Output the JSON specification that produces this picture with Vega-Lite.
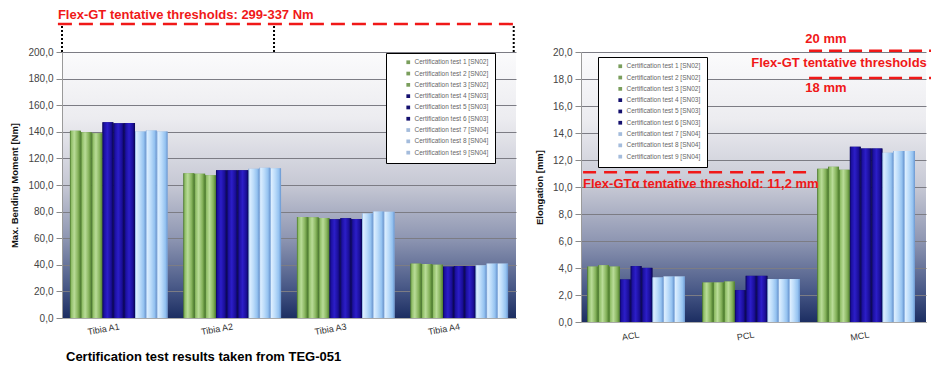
{
  "$schema": "https://vega.github.io/schema/vega-lite/v6.json",
  "background": "white",
  "padding": {"left": 9, "top": 8, "right": 0, "bottom": 0},
  "spacing": 65,
  "bounds": "flush",
  "config": {
    "font": "Liberation Sans",
    "view": {"stroke": null},
    "axis": {
      "labelFont": "Liberation Sans",
      "titleFont": "Liberation Sans",
      "labelColor": "#444444",
      "titleColor": "#111111",
      "titleFontWeight": "bold",
      "titleFontSize": 9.5,
      "domainColor": "#9a9a9a",
      "tickColor": "#8a8a8a",
      "gridColor": "#7c7c84"
    },
    "axisY": {
      "tickCount": 10,
      "labelOverlap": false,
      "labelExpr": "replace(format(datum.value, '.1f'), '.', ',')",
      "labelFontSize": 10,
      "tickSize": 6,
      "labelPadding": 3,
      "titlePadding": 8,
      "grid": true
    },
    "axisX": {
      "labelAngle": -10,
      "labelFontSize": 9,
      "labelPadding": 7,
      "ticks": false,
      "grid": false,
      "labelColor": "#333333",
      "domainColor": "#aaaaaa"
    },
    "legend": {
      "title": null,
      "orient": "none",
      "fillColor": "white",
      "strokeColor": "#000000",
      "padding": 6,
      "symbolOffset": 13,
      "labelFont": "Liberation Sans",
      "labelFontSize": 6.5,
      "labelColor": "#666666",
      "symbolType": "square",
      "symbolSize": 14,
      "symbolStrokeWidth": 0,
      "rowPadding": 4.3,
      "labelOffset": 3
    }
  },
  "datasets": {
    "bend": [
      {"cat": "Tibia A1", "test": "Certification test 1 [SN02]", "sn": "SN02", "value": 140.7},
      {"cat": "Tibia A1", "test": "Certification test 2 [SN02]", "sn": "SN02", "value": 139.6},
      {"cat": "Tibia A1", "test": "Certification test 3 [SN02]", "sn": "SN02", "value": 139.0},
      {"cat": "Tibia A1", "test": "Certification test 4 [SN03]", "sn": "SN03", "value": 147.2},
      {"cat": "Tibia A1", "test": "Certification test 5 [SN03]", "sn": "SN03", "value": 146.5},
      {"cat": "Tibia A1", "test": "Certification test 6 [SN03]", "sn": "SN03", "value": 146.7},
      {"cat": "Tibia A1", "test": "Certification test 7 [SN04]", "sn": "SN04", "value": 140.3},
      {"cat": "Tibia A1", "test": "Certification test 8 [SN04]", "sn": "SN04", "value": 141.0},
      {"cat": "Tibia A1", "test": "Certification test 9 [SN04]", "sn": "SN04", "value": 140.3},
      {"cat": "Tibia A2", "test": "Certification test 1 [SN02]", "sn": "SN02", "value": 108.9},
      {"cat": "Tibia A2", "test": "Certification test 2 [SN02]", "sn": "SN02", "value": 108.4},
      {"cat": "Tibia A2", "test": "Certification test 3 [SN02]", "sn": "SN02", "value": 107.4},
      {"cat": "Tibia A2", "test": "Certification test 4 [SN03]", "sn": "SN03", "value": 111.1},
      {"cat": "Tibia A2", "test": "Certification test 5 [SN03]", "sn": "SN03", "value": 111.1},
      {"cat": "Tibia A2", "test": "Certification test 6 [SN03]", "sn": "SN03", "value": 111.1},
      {"cat": "Tibia A2", "test": "Certification test 7 [SN04]", "sn": "SN04", "value": 112.3},
      {"cat": "Tibia A2", "test": "Certification test 8 [SN04]", "sn": "SN04", "value": 113.0},
      {"cat": "Tibia A2", "test": "Certification test 9 [SN04]", "sn": "SN04", "value": 112.6},
      {"cat": "Tibia A3", "test": "Certification test 1 [SN02]", "sn": "SN02", "value": 76.0},
      {"cat": "Tibia A3", "test": "Certification test 2 [SN02]", "sn": "SN02", "value": 75.7},
      {"cat": "Tibia A3", "test": "Certification test 3 [SN02]", "sn": "SN02", "value": 75.2},
      {"cat": "Tibia A3", "test": "Certification test 4 [SN03]", "sn": "SN03", "value": 74.3},
      {"cat": "Tibia A3", "test": "Certification test 5 [SN03]", "sn": "SN03", "value": 75.0},
      {"cat": "Tibia A3", "test": "Certification test 6 [SN03]", "sn": "SN03", "value": 74.5},
      {"cat": "Tibia A3", "test": "Certification test 7 [SN04]", "sn": "SN04", "value": 78.5},
      {"cat": "Tibia A3", "test": "Certification test 8 [SN04]", "sn": "SN04", "value": 80.0},
      {"cat": "Tibia A3", "test": "Certification test 9 [SN04]", "sn": "SN04", "value": 79.8},
      {"cat": "Tibia A4", "test": "Certification test 1 [SN02]", "sn": "SN02", "value": 40.9},
      {"cat": "Tibia A4", "test": "Certification test 2 [SN02]", "sn": "SN02", "value": 40.6},
      {"cat": "Tibia A4", "test": "Certification test 3 [SN02]", "sn": "SN02", "value": 40.1},
      {"cat": "Tibia A4", "test": "Certification test 4 [SN03]", "sn": "SN03", "value": 38.6},
      {"cat": "Tibia A4", "test": "Certification test 5 [SN03]", "sn": "SN03", "value": 39.1},
      {"cat": "Tibia A4", "test": "Certification test 6 [SN03]", "sn": "SN03", "value": 39.1},
      {"cat": "Tibia A4", "test": "Certification test 7 [SN04]", "sn": "SN04", "value": 39.6},
      {"cat": "Tibia A4", "test": "Certification test 8 [SN04]", "sn": "SN04", "value": 40.9},
      {"cat": "Tibia A4", "test": "Certification test 9 [SN04]", "sn": "SN04", "value": 40.9}
    ],
    "elong": [
      {"cat": "ACL", "test": "Certification test 1 [SN02]", "sn": "SN02", "value": 4.11},
      {"cat": "ACL", "test": "Certification test 2 [SN02]", "sn": "SN02", "value": 4.21},
      {"cat": "ACL", "test": "Certification test 3 [SN02]", "sn": "SN02", "value": 4.11},
      {"cat": "ACL", "test": "Certification test 4 [SN03]", "sn": "SN03", "value": 3.15},
      {"cat": "ACL", "test": "Certification test 5 [SN03]", "sn": "SN03", "value": 4.14},
      {"cat": "ACL", "test": "Certification test 6 [SN03]", "sn": "SN03", "value": 4.01},
      {"cat": "ACL", "test": "Certification test 7 [SN04]", "sn": "SN04", "value": 3.30},
      {"cat": "ACL", "test": "Certification test 8 [SN04]", "sn": "SN04", "value": 3.37},
      {"cat": "ACL", "test": "Certification test 9 [SN04]", "sn": "SN04", "value": 3.37},
      {"cat": "PCL", "test": "Certification test 1 [SN02]", "sn": "SN02", "value": 2.93},
      {"cat": "PCL", "test": "Certification test 2 [SN02]", "sn": "SN02", "value": 2.93},
      {"cat": "PCL", "test": "Certification test 3 [SN02]", "sn": "SN02", "value": 3.00},
      {"cat": "PCL", "test": "Certification test 4 [SN03]", "sn": "SN03", "value": 2.36},
      {"cat": "PCL", "test": "Certification test 5 [SN03]", "sn": "SN03", "value": 3.42},
      {"cat": "PCL", "test": "Certification test 6 [SN03]", "sn": "SN03", "value": 3.42},
      {"cat": "PCL", "test": "Certification test 7 [SN04]", "sn": "SN04", "value": 3.18},
      {"cat": "PCL", "test": "Certification test 8 [SN04]", "sn": "SN04", "value": 3.18},
      {"cat": "PCL", "test": "Certification test 9 [SN04]", "sn": "SN04", "value": 3.18},
      {"cat": "MCL", "test": "Certification test 1 [SN02]", "sn": "SN02", "value": 11.35},
      {"cat": "MCL", "test": "Certification test 2 [SN02]", "sn": "SN02", "value": 11.50},
      {"cat": "MCL", "test": "Certification test 3 [SN02]", "sn": "SN02", "value": 11.28},
      {"cat": "MCL", "test": "Certification test 4 [SN03]", "sn": "SN03", "value": 12.98},
      {"cat": "MCL", "test": "Certification test 5 [SN03]", "sn": "SN03", "value": 12.86},
      {"cat": "MCL", "test": "Certification test 6 [SN03]", "sn": "SN03", "value": 12.86},
      {"cat": "MCL", "test": "Certification test 7 [SN04]", "sn": "SN04", "value": 12.54},
      {"cat": "MCL", "test": "Certification test 8 [SN04]", "sn": "SN04", "value": 12.66},
      {"cat": "MCL", "test": "Certification test 9 [SN04]", "sn": "SN04", "value": 12.66}
    ]
  },
  "resolve": {"scale": {"color": "independent", "x": "independent", "y": "independent"}, "legend": {"color": "independent"}},
  "hconcat": [
    {
      "width": 454,
      "height": 266,
      "view": {"stroke": null, "fill": {"gradient": "linear", "x1": 0, "y1": 0, "x2": 0, "y2": 1, "stops": [
                {"offset": 0, "color": "#fbfbfc"}, {"offset": 0.25, "color": "#ececf0"}, {"offset": 0.5, "color": "#c6c8d4"},
                {"offset": 0.7, "color": "#8e96b2"}, {"offset": 0.88, "color": "#4a5a88"}, {"offset": 1, "color": "#1c2e62"}]}},
      "title": {"text": "Certification test results taken from TEG-051", "orient": "bottom", "anchor": "start", "frame": "group", "fontSize": 13, "fontWeight": "bold", "color": "#000000", "offset": 14, "dx": 4, "font": "Liberation Sans"},
      "resolve": {"scale": {"x": "independent"}},
      "layer": [
        {
          "data": {"name": "bend"},
          "encoding": {
            "x": {"field": "cat", "type": "nominal", "title": null, "sort": null,
                  "scale": {"paddingInner": 0.14, "paddingOuter": 0.07},
                  "axis": {"labelPadding": 4}},
            "xOffset": {"field": "test", "type": "nominal"},
            "y": {"field": "value", "type": "quantitative", "title": "Max. Bending Moment [Nm]",
                  "scale": {"domain": [0, 200], "nice": false}}
          },
          "layer": [
            {
              "mark": {"type": "bar"},
              "encoding": {
                "color": {"field": "test", "type": "nominal",
                  "scale": {"range": ["#7a9e5c", "#7a9e5c", "#7a9e5c", "#14106e", "#14106e", "#14106e", "#a4bcdc", "#a4bcdc", "#a4bcdc"]},
                  "legend": {"legendX": 324, "legendY": 1}}
              }
            },
            {
              "transform": [{"filter": {"field": "sn", "equal": "SN02"}}],
              "mark": {"type": "bar", "fill": {"gradient": "linear", "x1": 0, "y1": 0, "x2": 1, "y2": 0, "stops": [
                {"offset": 0, "color": "#3f6e22"}, {"offset": 0.12, "color": "#8fbd66"}, {"offset": 0.4, "color": "#b9dc98"},
                {"offset": 0.75, "color": "#86b35c"}, {"offset": 1, "color": "#4c7c2c"}]}}
            },
            {
              "transform": [{"filter": {"field": "sn", "equal": "SN03"}}],
              "mark": {"type": "bar", "fill": {"gradient": "linear", "x1": 0, "y1": 0, "x2": 1, "y2": 0, "stops": [
                {"offset": 0, "color": "#0a0658"}, {"offset": 0.15, "color": "#1c10a0"}, {"offset": 0.45, "color": "#2c1ec8"},
                {"offset": 0.8, "color": "#1a0e98"}, {"offset": 1, "color": "#08044c"}]}}
            },
            {
              "transform": [{"filter": {"field": "sn", "equal": "SN04"}}],
              "mark": {"type": "bar", "fill": {"gradient": "linear", "x1": 0, "y1": 0, "x2": 1, "y2": 0, "stops": [
                {"offset": 0, "color": "#7aa6dc"}, {"offset": 0.12, "color": "#dceeff"}, {"offset": 0.45, "color": "#bcdcfa"},
                {"offset": 0.8, "color": "#94c2f0"}, {"offset": 1, "color": "#6a96d0"}]}}
            }
          ]
        },
        {
          "data": {"values": [{}]},
          "layer": [
            {
              "mark": {"type": "rule", "color": "#f01818", "strokeWidth": 2.5, "strokeDash": [14, 7], "clip": false},
              "encoding": {
                "x": {"datum": -0.009, "type": "quantitative", "scale": {"domain": [0, 1]}, "axis": null},
                "x2": {"datum": 0.995},
                "y": {"datum": 221, "type": "quantitative"}
              }
            },
            {
              "mark": {"type": "rule", "color": "#000000", "strokeWidth": 2, "strokeDash": [2, 2], "clip": false},
              "encoding": {
                "x": {"datum": 0, "type": "quantitative", "scale": {"domain": [0, 1]}, "axis": null},
                "y": {"datum": 200, "type": "quantitative"},
                "y2": {"datum": 221}
              }
            },
            {
              "mark": {"type": "rule", "color": "#000000", "strokeWidth": 2, "strokeDash": [2, 2], "clip": false},
              "encoding": {
                "x": {"datum": 0.467, "type": "quantitative", "scale": {"domain": [0, 1]}, "axis": null},
                "y": {"datum": 200, "type": "quantitative"},
                "y2": {"datum": 221}
              }
            },
            {
              "mark": {"type": "rule", "color": "#000000", "strokeWidth": 2, "strokeDash": [2, 2], "clip": false},
              "encoding": {
                "x": {"datum": 0.995, "type": "quantitative", "scale": {"domain": [0, 1]}, "axis": null},
                "y": {"datum": 200, "type": "quantitative"},
                "y2": {"datum": 221}
              }
            },
            {
              "mark": {"type": "text", "text": "Flex-GT tentative thresholds: 299-337 Nm", "color": "#f01818", "fontSize": 13, "fontWeight": "bold", "align": "left", "baseline": "middle", "clip": false, "font": "Liberation Sans"},
              "encoding": {
                "x": {"datum": -0.009, "type": "quantitative", "scale": {"domain": [0, 1]}, "axis": null},
                "y": {"datum": 228, "type": "quantitative"}
              }
            }
          ]
        }
      ]
    },
    {
      "width": 345,
      "height": 270,
      "view": {"stroke": null, "fill": {"gradient": "linear", "x1": 0, "y1": 0, "x2": 0, "y2": 1, "stops": [
                {"offset": 0, "color": "#fbfbfc"}, {"offset": 0.25, "color": "#ececf0"}, {"offset": 0.5, "color": "#c6c8d4"},
                {"offset": 0.7, "color": "#8e96b2"}, {"offset": 0.88, "color": "#4a5a88"}, {"offset": 1, "color": "#1c2e62"}]}},
      "resolve": {"scale": {"x": "independent"}},
      "layer": [
        {
          "data": {"name": "elong"},
          "encoding": {
            "x": {"field": "cat", "type": "nominal", "title": null, "sort": null,
                  "scale": {"paddingInner": 0.11, "paddingOuter": 0.055},
                  "axis": {"labelPadding": 8}},
            "xOffset": {"field": "test", "type": "nominal"},
            "y": {"field": "value", "type": "quantitative", "title": "Elongation [mm]",
                  "scale": {"domain": [0, 20], "nice": false}}
          },
          "layer": [
            {
              "mark": {"type": "bar"},
              "encoding": {
                "color": {"field": "test", "type": "nominal",
                  "scale": {"range": ["#7a9e5c", "#7a9e5c", "#7a9e5c", "#14106e", "#14106e", "#14106e", "#a4bcdc", "#a4bcdc", "#a4bcdc"]},
                  "legend": {"legendX": 17, "legendY": 5}}
              }
            },
            {
              "transform": [{"filter": {"field": "sn", "equal": "SN02"}}],
              "mark": {"type": "bar", "fill": {"gradient": "linear", "x1": 0, "y1": 0, "x2": 1, "y2": 0, "stops": [
                {"offset": 0, "color": "#3f6e22"}, {"offset": 0.12, "color": "#8fbd66"}, {"offset": 0.4, "color": "#b9dc98"},
                {"offset": 0.75, "color": "#86b35c"}, {"offset": 1, "color": "#4c7c2c"}]}}
            },
            {
              "transform": [{"filter": {"field": "sn", "equal": "SN03"}}],
              "mark": {"type": "bar", "fill": {"gradient": "linear", "x1": 0, "y1": 0, "x2": 1, "y2": 0, "stops": [
                {"offset": 0, "color": "#0a0658"}, {"offset": 0.15, "color": "#1c10a0"}, {"offset": 0.45, "color": "#2c1ec8"},
                {"offset": 0.8, "color": "#1a0e98"}, {"offset": 1, "color": "#08044c"}]}}
            },
            {
              "transform": [{"filter": {"field": "sn", "equal": "SN04"}}],
              "mark": {"type": "bar", "fill": {"gradient": "linear", "x1": 0, "y1": 0, "x2": 1, "y2": 0, "stops": [
                {"offset": 0, "color": "#7aa6dc"}, {"offset": 0.12, "color": "#dceeff"}, {"offset": 0.45, "color": "#bcdcfa"},
                {"offset": 0.8, "color": "#94c2f0"}, {"offset": 1, "color": "#6a96d0"}]}}
            }
          ]
        },
        {
          "data": {"values": [{}]},
          "layer": [
            {
              "mark": {"type": "rule", "color": "#f01818", "strokeWidth": 2.5, "strokeDash": [13, 7], "clip": false},
              "encoding": {
                "x": {"datum": 0.661, "type": "quantitative", "scale": {"domain": [0, 1]}, "axis": null},
                "x2": {"datum": 1.03},
                "y": {"datum": 20.1, "type": "quantitative"}
              }
            },
            {
              "mark": {"type": "rule", "color": "#f01818", "strokeWidth": 2.5, "strokeDash": [13, 7], "clip": false},
              "encoding": {
                "x": {"datum": 0.661, "type": "quantitative", "scale": {"domain": [0, 1]}, "axis": null},
                "x2": {"datum": 1.03},
                "y": {"datum": 18.07, "type": "quantitative"}
              }
            },
            {
              "mark": {"type": "rule", "color": "#f01818", "strokeWidth": 2.5, "strokeDash": [13, 8], "clip": false},
              "encoding": {
                "x": {"datum": 0.006, "type": "quantitative", "scale": {"domain": [0, 1]}, "axis": null},
                "x2": {"datum": 0.655},
                "y": {"datum": 11.1, "type": "quantitative"}
              }
            },
            {
              "mark": {"type": "text", "text": "20 mm", "color": "#f01818", "fontSize": 13, "fontWeight": "bold", "align": "center", "baseline": "middle", "clip": false, "font": "Liberation Sans"},
              "encoding": {
                "x": {"datum": 0.71, "type": "quantitative", "scale": {"domain": [0, 1]}, "axis": null},
                "y": {"datum": 20.96, "type": "quantitative"}
              }
            },
            {
              "mark": {"type": "text", "text": "Flex-GT tentative thresholds", "color": "#f01818", "fontSize": 13, "fontWeight": "bold", "align": "center", "baseline": "middle", "clip": false, "font": "Liberation Sans"},
              "encoding": {
                "x": {"datum": 0.748, "type": "quantitative", "scale": {"domain": [0, 1]}, "axis": null},
                "y": {"datum": 19.19, "type": "quantitative"}
              }
            },
            {
              "mark": {"type": "text", "text": "18 mm", "color": "#f01818", "fontSize": 13, "fontWeight": "bold", "align": "center", "baseline": "middle", "clip": false, "font": "Liberation Sans"},
              "encoding": {
                "x": {"datum": 0.71, "type": "quantitative", "scale": {"domain": [0, 1]}, "axis": null},
                "y": {"datum": 17.34, "type": "quantitative"}
              }
            },
            {
              "mark": {"type": "text", "text": "Flex-GTα tentative threshold: 11,2 mm", "color": "#f01818", "fontSize": 13, "fontWeight": "bold", "align": "left", "baseline": "middle", "clip": false, "font": "Liberation Sans"},
              "encoding": {
                "x": {"datum": 0.006, "type": "quantitative", "scale": {"domain": [0, 1]}, "axis": null},
                "y": {"datum": 10.24, "type": "quantitative"}
              }
            }
          ]
        }
      ]
    }
  ]
}
